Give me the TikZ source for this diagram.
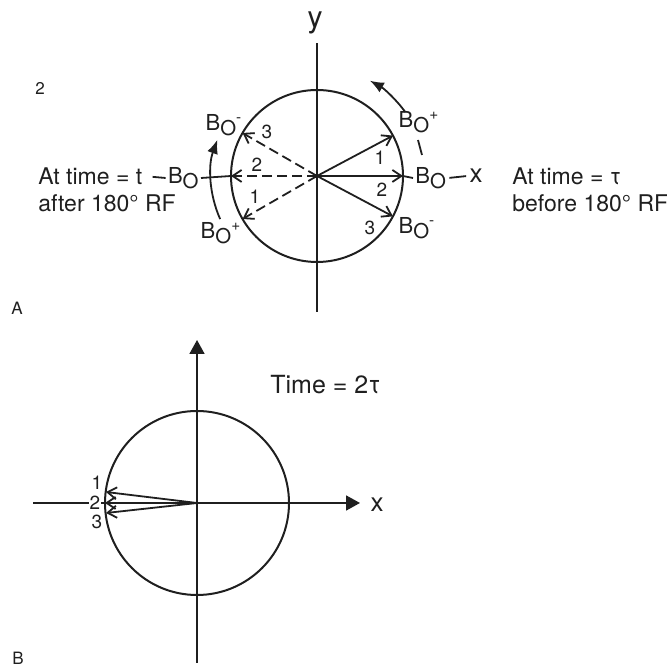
\documentclass[tikz,border=0pt]{standalone}
\usepackage{fontspec}
\setmainfont{TeX Gyre Heros}
\usetikzlibrary{arrows.meta,calc}
\newcommand{\Bsub}{B\raisebox{-0.45ex}{\fontsize{10.2}{11}\selectfont O}}

\begin{document}
\begin{tikzpicture}[x=0.5pt,y=0.5pt,font=\fontsize{11.5}{13.5}\selectfont,
  ax/.style={line width=0.9pt,black!88},
  ring/.style={line width=1pt,black!88},
  vec/.style={ax,-{Straight Barb[length=4.5pt,width=6pt]}},
  dvec/.style={vec,dash pattern=on 5pt off 2.5pt},
  turn/.style={ax,-{Latex[length=7pt,width=5.5pt]}},
  axb/.style={ax,-{Triangle[length=7pt,width=7.5pt]}},
  num/.style={font=\fontsize{9.5}{11}\selectfont,inner sep=0.5pt,text=black!88},
  bo/.style={font=\fontsize{11}{12}\selectfont,inner sep=1pt,text=black!88},
  txt/.style={anchor=west,inner sep=0pt,text=black!88},
  tag/.style={font=\fontsize{8.5}{10}\selectfont,text=black!88}]
\useasboundingbox (0,0) rectangle (667,668);

%% panel A: echo at time tau, then after the 180 degree pulse
\coordinate (oA) at (317,492);
\draw[ring] (oA) circle (86);
\coordinate (yA0) at (317,356);
\coordinate (yA1) at (317,625);
\draw[ax] (yA0) -- (yA1);
\node[font=\fontsize{15}{17}\selectfont,text=black!88] (ylab) at (315,645) {y};

%% spins before the pulse (solid) and after it (dashed)
\foreach \i/\a in {1/28,2/0,3/-28}
  \coordinate (r\i) at ($(oA)+(\a:86)$);
\foreach \i/\a in {1/210,2/180,3/150}
  \coordinate (l\i) at ($(oA)+(\a:86)$);
\foreach \i in {1,2,3}
  \draw[vec] (oA) -- (r\i);
\foreach \i in {1,2,3}
  \draw[dvec] (oA) -- (l\i);

\foreach \n/\x/\y in {1/380/510, 2/382/478, 3/370/440}
  \node[num] (nr\n) at (\x,\y) {\n};
\foreach \n/\x/\y in {1/255/471, 2/257/503, 3/267/536}
  \node[num] (nl\n) at (\x,\y) {\n};

%% field labels
\node[bo,anchor=west] (boR) at (413,490) {\Bsub};
\node[bo] (boRu) at (419,546) {\Bsub\textsuperscript{+}};
\node[bo] (boRd) at (417,440) {\Bsub\textsuperscript{-}};
\node[bo,anchor=east] (boL) at (201,490) {\Bsub};
\node[bo] (boLu) at (224,543) {\Bsub\textsuperscript{-}};
\node[bo] (boLd) at (221,435) {\Bsub\textsuperscript{+}};
\node[font=\fontsize{13}{14}\selectfont,inner sep=1pt,text=black!88] (xA) at (476,492) {x};

\draw[ax] (r2) -- (boR.west);
\draw[ax,shorten <=0.5pt,shorten >=0.5pt] (boR.east) -- (xA.west);
\draw[ax] (boL.east) -- (l2);
\coordinate (tk0) at (418,528);
\coordinate (tk1) at (422,513);
\draw[ax] (tk0) -- (tk1);

%% sense of dephasing
\draw[turn] ($(oA)+(36:109)$) arc[start angle=36,end angle=61,radius=109];
\draw[turn] ($(oA)+(204:106)$) arc[start angle=204,end angle=160,radius=106];

%% side texts
\node[txt] (tL) at (38,492) {At time = t};
\node[txt] (tL2) at (38,465) {after 180\textdegree\ RF};
\draw[ax,shorten <=5pt,shorten >=0pt] (tL.east) -- (boL.west);
\node[txt] (tR) at (512,492) {At time = τ};
\node[txt] (tR2) at (512,465) {before 180\textdegree\ RF};

\node[tag] (two) at (40,580) {2};
\node[tag] (pa) at (17,360) {A};

%% panel B: refocused at 2 tau
\coordinate (oB) at (197,165);
\draw[ring] (oB) circle (92);
\coordinate (xB0) at (33,165);
\coordinate (xB1) at (360,165);
\coordinate (yB0) at (197,5);
\coordinate (yB1) at (197,328);
\draw[axb] (xB0) -- (xB1);
\draw[axb] (yB0) -- (yB1);
\node[font=\fontsize{13}{14}\selectfont,inner sep=1pt,text=black!88] (xB) at (377,163) {x};

\coordinate (b1) at (106,176);
\coordinate (b2) at (105,165);
\coordinate (b3) at (106,155);
\foreach \i in {1,2,3}
  \draw[vec] (oB) -- (b\i);
\node[num] (nb1) at (97,185) {1};
\node[num,fill=white] (nb2) at (95,165) {2};
\node[num] (nb3) at (97,146) {3};

\node[txt,font=\fontsize{12.5}{14}\selectfont] (tB) at (270,283) {Time = 2τ};
\node[tag] (pb) at (18,10) {B};
\end{tikzpicture}
\end{document}
